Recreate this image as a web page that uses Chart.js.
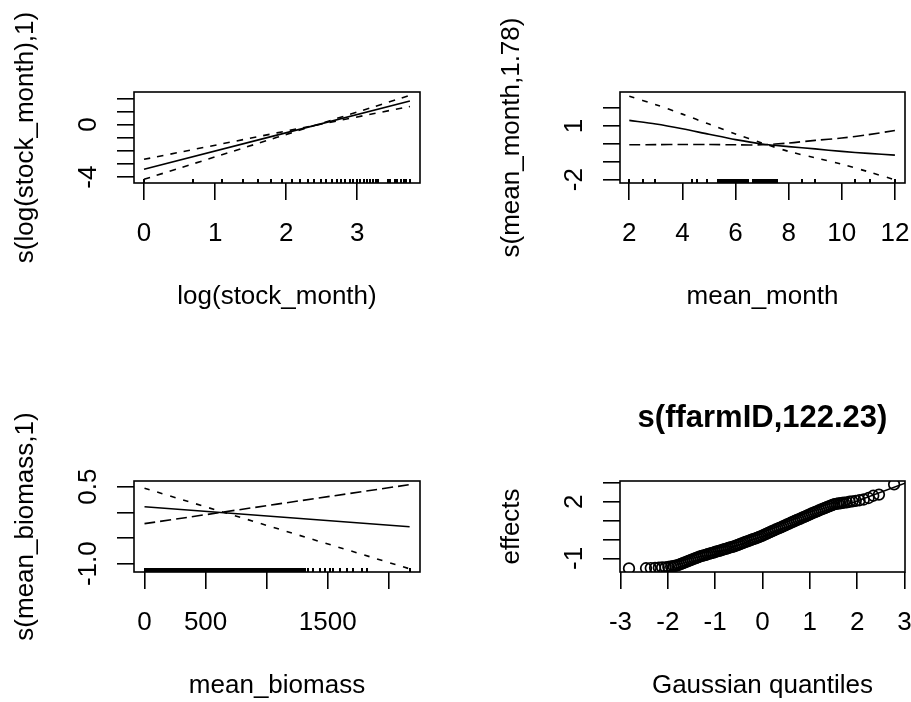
<!DOCTYPE html>
<html>
<head>
<meta charset="utf-8">
<script src="https://cdn.jsdelivr.net/npm/chart.js@4.4.1/dist/chart.umd.min.js"></script>
<style>
  html, body { margin: 0; padding: 0; background: #fff; }
  #wrap { position: relative; width: 911px; height: 702px; }
  #wrap canvas { position: absolute; left: 0; top: 0; }
</style>
</head>
<body>
<div id="wrap">
  <canvas id="p1" width="911" height="702"></canvas>
  <canvas id="p2" width="911" height="702"></canvas>
  <canvas id="p3" width="911" height="702"></canvas>
  <canvas id="p4" width="911" height="702"></canvas>
</div>
<script>
// ---- panel 1: s(log(stock_month),1)
const stockMonth = [1,2,3,4,5,6,7,8,9,10,11,12,13,14,15,16,17,18,19,20,21,22,23,24,25,26,27,31,32,34,35,37,39,40,42];
const p1X = [0, 3.74];
const p1Fit = [-3.40, 1.80];
const p1BandA = [-2.64, 1.38];
const p1BandB = [-4.16, 2.22];
const p1XTicks = [0, 1, 2, 3];
const p1XLabels = ['0', '1', '2', '3'];
const p1YTicks = [-4, -3, -2, -1, 0, 1, 2];
const p1YLabels = ['0', '-4'];

// ---- panel 2: s(mean_month,1.78)
const meanMonth = [2, 2.53, 2.97, 4.35, 4.54, 4.91,
  5.35, 5.39, 5.42, 5.46, 5.50, 5.53, 5.57, 5.61, 5.64, 5.68, 5.72, 5.75, 5.79, 5.83, 5.86, 5.90,
  5.94, 5.97, 6.01, 6.05, 6.08, 6.12, 6.16, 6.19, 6.23, 6.27, 6.30, 6.34, 6.38, 6.41, 6.45, 6.48,
  6.67, 6.71, 6.74, 6.78, 6.82, 6.85, 6.89, 6.93, 6.96, 7.00, 7.04, 7.07, 7.11, 7.15, 7.18, 7.22,
  7.26, 7.29, 7.33, 7.37, 7.40, 7.44, 7.48, 7.51, 7.55,
  8.49, 8.99, 10.5, 11.06, 12];
const p2X = [2, 3, 4, 5, 6, 7, 8, 9, 10, 11, 12];
const p2Fit = [1.32, 1.12, 0.85, 0.54, 0.24, 0.0, -0.15, -0.28, -0.42, -0.53, -0.63];
const p2BandA = [2.67, 2.2, 1.67, 1.11, 0.56, 0.05, -0.42, -0.78, -1.14, -1.56, -2.01];
const p2BandB = [-0.05, -0.04, -0.03, -0.03, -0.05, -0.05, 0.05, 0.2, 0.33, 0.52, 0.75];
const p2XTicks = [2, 4, 6, 8, 10, 12];
const p2XLabels = ['2', '4', '6', '8', '10', '12'];
const p2YTicks = [-2, -1, 0, 1, 2];
const p2YLabels = ['1', '-2'];

// ---- panel 3: s(mean_biomass,1)
const meanBiomass = [0, 12, 26, 39, 52, 66, 79, 93, 105, 118, 131, 145, 158, 171, 185, 198, 210, 224, 237,
  251, 264, 277, 290, 304, 317, 330, 343, 357, 370, 383, 397, 410, 423, 436, 450, 463, 476, 489, 503,
  516, 529, 542, 556, 569, 582, 596, 609, 622, 635, 649, 662, 675, 688, 702, 715, 728, 741, 755, 768,
  781, 795, 808, 821, 834, 848, 861, 874, 887, 901, 914, 927, 940, 954, 967, 980, 993, 1007, 1020,
  1033, 1046, 1060, 1073, 1086, 1099, 1113, 1126, 1139, 1152, 1166, 1179, 1192, 1205, 1219, 1232,
  1245, 1258, 1272, 1285, 1298, 1311,
  1341, 1382, 1437, 1478, 1519, 1546, 1601, 1655, 1710, 1778, 1819, 2170];
const p3X = [0, 2170];
const p3Fit = [0.11, -0.28];
const p3BandA = [0.47, -1.10];
const p3BandB = [-0.22, 0.54];
const p3XTicks = [0, 500, 1000, 1500, 2000];
const p3XLabels = ['0', '500', '1500'];
const p3YTicks = [-1, -0.5, 0, 0.5];
const p3YLabels = ['0.5', '-1.0'];

// ---- panel 4: s(ffarmID,122.23) qq plot
const qqTheo = [-2.82, -2.46, -2.36, -2.27, -2.19, -2.12, -2.05, -1.99, -1.93, -1.88, -1.84,
  -1.80, -1.76, -1.72, -1.68, -1.64, -1.60, -1.56, -1.52, -1.48, -1.44, -1.40, -1.36, -1.32,
  -1.28, -1.24, -1.20, -1.16, -1.12, -1.08, -1.04, -1.00, -0.96, -0.92, -0.88, -0.84, -0.80, -0.76, -0.72, -0.68, -0.64, -0.60,
  -0.56, -0.52, -0.48, -0.44, -0.40, -0.36, -0.32, -0.28, -0.24, -0.20, -0.16, -0.12, -0.08, -0.04,
  0.00, 0.04, 0.08, 0.12, 0.16, 0.20, 0.24, 0.28, 0.32, 0.36, 0.40, 0.44, 0.48, 0.52,
  0.56, 0.60, 0.64, 0.68, 0.72, 0.76, 0.80, 0.84, 0.88, 0.92, 0.96, 1.00, 1.04, 1.08,
  1.12, 1.16, 1.20, 1.24, 1.28, 1.32, 1.36, 1.40, 1.44, 1.48,
  1.52, 1.56, 1.60, 1.64, 1.68, 1.72,
  1.78, 1.84, 1.90, 1.97, 2.05, 2.14, 2.24, 2.34, 2.46, 2.78];
const qqEffects = [-1.53, -1.52, -1.51, -1.50, -1.49, -1.48, -1.47, -1.45, -1.43, -1.41, -1.39,
  -1.37, -1.33, -1.29, -1.25, -1.21, -1.17, -1.13, -1.09, -1.05, -1.01, -0.97, -0.94, -0.90,
  -0.87, -0.84, -0.81, -0.78, -0.75, -0.72, -0.69, -0.66, -0.63, -0.60, -0.57, -0.54, -0.51, -0.48, -0.45, -0.42, -0.39, -0.36,
  -0.32, -0.28, -0.25, -0.21, -0.17, -0.13, -0.10, -0.06, -0.02, 0.02, 0.05, 0.09, 0.13, 0.17,
  0.21, 0.26, 0.30, 0.35, 0.39, 0.44, 0.48, 0.53, 0.57, 0.62, 0.66, 0.71, 0.75, 0.80,
  0.84, 0.89, 0.93, 0.98, 1.02, 1.07, 1.11, 1.16, 1.20, 1.24, 1.29, 1.33, 1.38, 1.42,
  1.46, 1.50, 1.55, 1.59, 1.63, 1.67, 1.71, 1.76, 1.80, 1.84,
  1.87, 1.89, 1.91, 1.92, 1.94, 1.95,
  1.97, 2.00, 2.02, 2.05, 2.08, 2.12, 2.20, 2.32, 2.38, 2.92];
const qqLineX = [-3.01, 3.01];
const qqLineY = [-2.64, 2.98];
const p4XTicks = [-3, -2, -1, 0, 1, 2, 3];
const p4XLabels = ['-3', '-2', '-1', '0', '1', '2', '3'];
const p4YTicks = [-1, 0, 1, 2, 3];
const p4YLabels = ['2', '-1'];

// ---- drawing
const FONT = '"Liberation Sans", Arial, sans-serif';
Chart.defaults.font.family = FONT;
Chart.defaults.font.size = 26;
Chart.defaults.color = '#000';

const YW = 124, XH = 130, TICK = 17, LW = 1.6;
const measure = document.createElement('canvas').getContext('2d');
measure.font = '26px ' + FONT;

// rug tick: upper half is the mark, lower half transparent
const rugImg = document.createElement('canvas');
rugImg.width = 2; rugImg.height = 8;
rugImg.getContext('2d').fillRect(0, 0, 2, 4);

const pts = (xs, ys) => xs.map((x, i) => ({x, y: ys[i]}));
const labelCb = labels => v => {
  const s = labels.find(l => Number(l) === v);
  return s === undefined ? '' : s;
};
const zeroPad = s => { s.paddingLeft = s.paddingRight = s.paddingTop = s.paddingBottom = 0; };

function axisX(min, max, ticks, labels, title) {
  return {
    type: 'linear', position: 'bottom', min, max,
    afterBuildTicks: s => { s.ticks = ticks.map(value => ({value})); },
    afterFit: s => { s.height = XH; zeroPad(s); },
    grid: { drawOnChartArea: false, drawTicks: true, tickLength: TICK, color: '#000', lineWidth: LW },
    border: { display: false },
    ticks: { autoSkip: false, minRotation: 0, maxRotation: 0, padding: 18.4, callback: labelCb(labels) },
    title: { display: true, text: title, padding: { top: 0, bottom: 0.4 } }
  };
}

function axisY(min, max, ticks, labels, title) {
  const widest = Math.max(...labels.map(l => measure.measureText(l).width));
  return {
    type: 'linear', position: 'left', min, max,
    afterBuildTicks: s => { s.ticks = ticks.map(value => ({value})); },
    afterFit: s => { s.width = YW; zeroPad(s); },
    grid: { drawOnChartArea: false, drawTicks: true, tickLength: TICK, color: '#000', lineWidth: LW },
    border: { display: false },
    ticks: { autoSkip: false, minRotation: 90, maxRotation: 90, crossAlign: 'center',
             padding: 28 - widest / 2, callback: labelCb(labels) },
    title: { display: true, text: title, padding: { top: 0, bottom: 0 } }
  };
}

const boxPlugin = {
  id: 'box',
  afterDraw(chart) {
    const {ctx, chartArea: a} = chart;
    ctx.save();
    ctx.strokeStyle = '#000';
    ctx.lineWidth = LW;
    ctx.strokeRect(a.left, a.top, a.right - a.left, a.bottom - a.top);
    ctx.restore();
  }
};

const line = (xs, ys, dash) => ({
  data: pts(xs, ys), showLine: true, pointRadius: 0, borderColor: '#000',
  borderWidth: LW, borderDash: dash || [], clip: 0, tension: 0.3
});
const rug = (xs, yMin) => ({
  data: xs.map(x => ({x, y: yMin})), showLine: false, pointStyle: rugImg,
  pointRadius: 4, clip: 0
});

function panel(id, box, datasets, scales, topH) {
  new Chart(document.getElementById(id), {
    type: 'scatter',
    data: { datasets },
    options: {
      responsive: false, animation: false, devicePixelRatio: 1,
      layout: { autoPadding: false,
        padding: { left: box.l - YW, right: 911 - box.r, top: box.t - (topH || 0), bottom: 702 - box.b - XH } },
      plugins: { legend: { display: false }, tooltip: { enabled: false }, title: { display: false } },
      scales
    },
    plugins: [boxPlugin]
  });
}

// panel 1
const p1Y = [-4.44, 2.48];
panel('p1', {l: 134, r: 420, t: 92, b: 183}, [
  line(p1X, p1Fit),
  line(p1X, p1BandA, [6.5, 7]),
  line(p1X, p1BandB, [6.5, 7]),
  rug(stockMonth.map(Math.log), p1Y[0])
], {
  x: axisX(-0.141, 3.882, p1XTicks, p1XLabels, 'log(stock_month)'),
  y: axisY(p1Y[0], p1Y[1], p1YTicks, p1YLabels, 's(log(stock_month),1)')
});

// panel 2
const p2Y = [-2.19, 2.91];
panel('p2', {l: 620, r: 905, t: 92, b: 183}, [
  line(p2X, p2Fit),
  line(p2X, p2BandA, [5.5, 8]),
  line(p2X, p2BandB, [11, 5]),
  rug(meanMonth, p2Y[0])
], {
  x: axisX(1.65, 12.38, p2XTicks, p2XLabels, 'mean_month'),
  y: axisY(p2Y[0], p2Y[1], p2YTicks, p2YLabels, 's(mean_month,1.78)')
});

// panel 3
const p3Y = [-1.162, 0.611];
panel('p3', {l: 134, r: 420, t: 481, b: 572}, [
  line(p3X, p3Fit),
  line(p3X, p3BandA, [5.5, 8]),
  line(p3X, p3BandB, [11, 5]),
  rug(meanBiomass, p3Y[0])
], {
  x: axisX(-86, 2255, p3XTicks, p3XLabels, 'mean_biomass'),
  y: axisY(p3Y[0], p3Y[1], p3YTicks, p3YLabels, 's(mean_biomass,1)')
});

// panel 4
panel('p4', {l: 620, r: 905, t: 481, b: 572}, [
  line(qqLineX, qqLineY),
  { data: pts(qqTheo, qqEffects), showLine: false, pointStyle: 'circle', pointRadius: 5.3,
    borderWidth: 1.7, borderColor: '#000', backgroundColor: 'rgba(0,0,0,0)', clip: 0 }
], {
  x: axisX(-3.01, 3.01, p4XTicks, p4XLabels, 'Gaussian quantiles'),
  y: axisY(-1.72, 3.1, p4YTicks, p4YLabels, 'effects'),
  x2: {
    type: 'linear', position: 'top', axis: 'x', min: -3.01, max: 3.01,
    afterFit: s => { s.height = 100; zeroPad(s); },
    ticks: { display: false }, grid: { display: false }, border: { display: false },
    title: { display: true, text: 's(ffarmID,122.23)', font: { size: 31, weight: 'bold' },
             padding: { top: 18.4, bottom: 0 } }
  }
}, 100);
</script>
</body>
</html>
